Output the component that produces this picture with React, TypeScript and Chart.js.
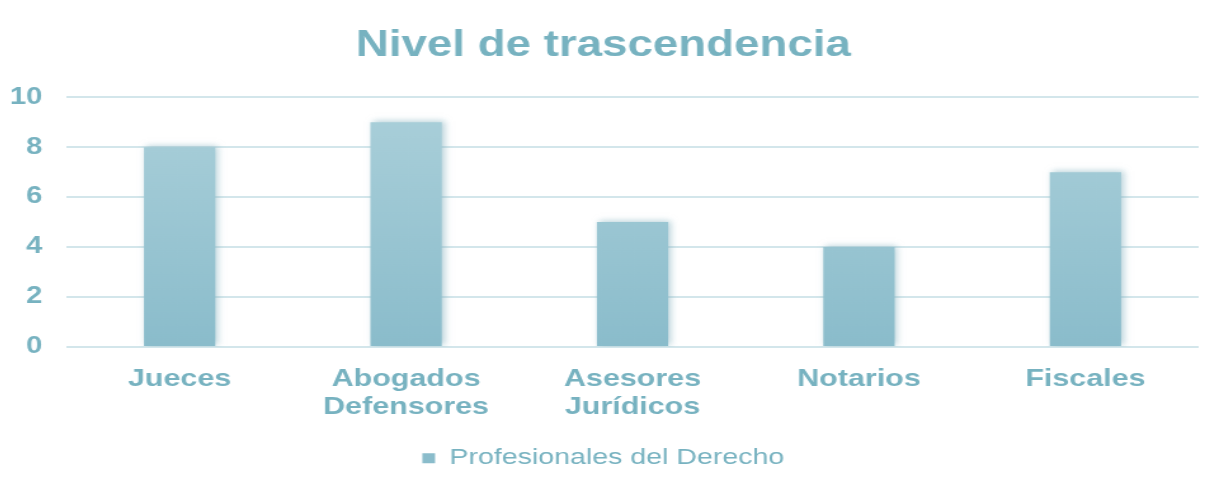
import React, { useEffect, useRef } from "react";
import { Chart, registerables } from "chart.js";

Chart.register(...registerables);

const categories: (string | string[])[] = [
  "Jueces",
  ["Abogados", "Defensores"],
  ["Asesores", "Jurídicos"],
  "Notarios",
  "Fiscales",
];
const seriesName = "Profesionales del Derecho";
const seriesValues = [8, 9, 5, 4, 7];
const yTicks = [0, 2, 4, 6, 8, 10];

const TEXT = "#77b2c0";
const FONT = "'Liberation Sans', Arial, sans-serif";
const DRAW_W = 943;
const SHOW_W = 1197;
const H = 469;

const shadowPlugin = {
  id: "barShadow",
  beforeDatasetsDraw(chart: any) {
    const ctx = chart.ctx;
    ctx.save();
    ctx.shadowColor = "rgba(120,170,185,0.55)";
    ctx.shadowBlur = 6;
    ctx.shadowOffsetX = 2;
    ctx.shadowOffsetY = -1;
  },
  afterDatasetsDraw(chart: any) {
    chart.ctx.restore();
  },
};

export default function App() {
  const ref = useRef<HTMLCanvasElement | null>(null);
  useEffect(() => {
    if (!ref.current) return;
    const chart = new Chart(ref.current, {
      type: "bar",
      data: {
        labels: categories,
        datasets: [
          {
            label: seriesName,
            data: seriesValues,
            backgroundColor: (c: any) => {
              const { chart } = c;
              const area = chart.chartArea;
              if (!area) return "#9cc6d2";
              const g = chart.ctx.createLinearGradient(0, area.top, 0, area.bottom);
              g.addColorStop(0, "#abd0da");
              g.addColorStop(1, "#8abccb");
              return g;
            },
            borderWidth: 0,
            categoryPercentage: 1,
            barPercentage: 0.315,
          },
        ],
      },
      plugins: [shadowPlugin],
      options: {
        responsive: false,
        animation: false,
        layout: { padding: { left: 0, right: 5, top: 0, bottom: -2.5 } },
        plugins: {
          title: {
            display: true,
            text: "Nivel de trascendencia",
            color: TEXT,
            font: { family: FONT, size: 36, weight: "bold" },
            padding: { top: 16, bottom: 30 },
          },
          legend: {
            position: "bottom",
            labels: {
              color: TEXT,
              font: { family: FONT, size: 22.5 },
              boxWidth: 10,
              boxHeight: 10,
              padding: 2,
            },
          },
          tooltip: { enabled: false },
        },
        scales: {
          x: {
            grid: { display: false },
            border: { display: false },
            afterFit: (scale: any) => {
              scale.height = 98;
            },
            ticks: {
              color: TEXT,
              font: { family: FONT, size: 24, weight: "bold", lineHeight: 1.15 },
              padding: 11,
              maxRotation: 0,
              autoSkip: false,
            },
          },
          y: {
            min: 0,
            max: 10,
            afterBuildTicks: (axis: any) => {
              axis.ticks = yTicks.map((v) => ({ value: v }));
            },
            afterFit: (scale: any) => {
              scale.width = 46;
            },
            grid: { color: "#d3e6eb", lineWidth: 2, drawTicks: false },
            border: { display: false },
            ticks: {
              color: TEXT,
              font: { family: FONT, size: 23, weight: "bold" },
              padding: 19,
            },
          },
        },
      },
    });
    return () => chart.destroy();
  }, []);
  return (
    <div style={{ width: SHOW_W, height: H }}>
      <canvas
        ref={ref}
        width={DRAW_W}
        height={H}
        style={{ width: SHOW_W + "px", height: H + "px", display: "block" }}
      />
    </div>
  );
}
